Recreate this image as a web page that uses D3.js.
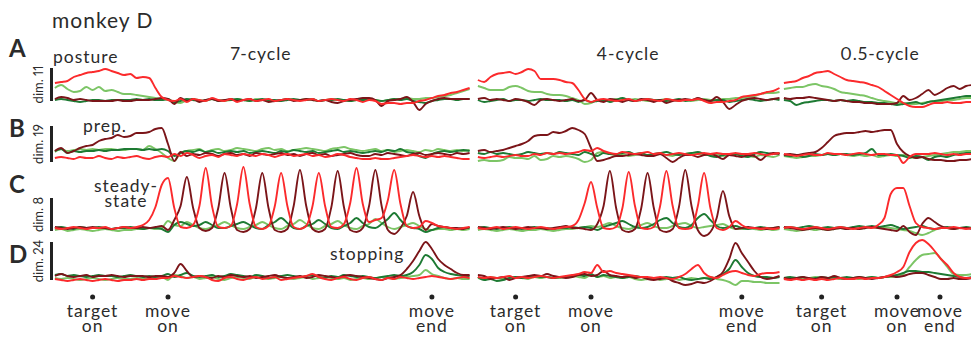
<!DOCTYPE html>
<html>
<head>
<meta charset="utf-8">
<script src="https://cdn.jsdelivr.net/npm/d3@7"></script>
<style>
body { margin: 0; background: #fff; }
text { font-family: Lato, "Open Sans", sans-serif; fill: #2b2b2b; font-variant-numeric: proportional-nums; }
.lab { font-size: 17.5px; letter-spacing: 1px; }
</style>
</head>
<body>
<div class="container"></div>
<script>
// time grid (s, relative to move onset) shared by every trace
var t0 = -1.5, step = 1 / 12;

var colNames = ['7-cycle', '4-cycle', '0.5-cycle'];
var colEnd = [4.0, 2.5, 1.0];
var rowLetters = ['A', 'B', 'C', 'D'];
var rowDims = ['dim. 11', 'dim. 19', 'dim. 8', 'dim. 24'];
var rowBars = [[-1, 32], [-8, 28], [-3, 30], [-3, 35]];
var eventTimes = [[-1, 0, 3.5], [-1, 0, 2.0], [-1, 0, 0.57]];
var eventLabels = [['target', 'on'], ['move', 'on'], ['move', 'end']];

// 7-cycle
var c7A_lg = [12,15,11,8,9,13,10,13,9,10, 8,6,6,5,4,3,2,1,0,-2, -3,0,1,0,-1,1,0,-1,0,1, 0,-1,1,0,0,-1,0,1,0,0, 1,0,-1,0,1,0,0,-1,0,1, 0,0,-1,0,1,1,2,1,1,2, 2,3,4,5,7,9,11];
var c7A_dg = [0,1,0,-1,-2,-1,0,0,-1,0, 0,0,0,1,0,1,0,0,1,-2, -1,1,0,-1,0,1,-1,0,0,1, 0,-1,0,1,0,0,-1,0,1,0, 0,1,-1,0,0,1,0,-1,0,0, 1,0,-1,0,1,0,1,-1,-2,-3, -1,0,1,1,0,1,1];
var c7A_dr = [1,3,2,0,1,0,-1,-1,-1,-1, 0,-1,-1,0,0,0,1,2,1,-4, 2,-1,1,-2,0,1,-1,0,1,-1, 0,1,-1,0,-2,-1,0,1,-1,0, 1,0,-1,0,-2,-3,-1,0,1,2, 2,0,-6,-1,0,1,3,-2,-10,-4, -1,1,2,1,1,1,1];
var c7A_rd = [17,18,19,23,25,27,28,29,31,29, 27,25,26,22,23,22,12,3,0,-1, 1,-2,1,0,-1,2,0,-1,1,-2, 0,1,-1,0,1,-1,0,1,0,-1, 0,1,-1,0,1,0,-1,1,0,-2, 0,-1,-4,-3,-3,-4,-3,-3,-1,0, 2,4,5,7,8,10,12];

var c7B_lg = [2,5,3,4,5,4,5,4,5,5, 4,4,5,5,4,8,5,1,-4,-7, 1,3,4,5,2,4,5,3,4,6, 5,4,3,5,6,4,5,3,4,5, 6,5,4,3,5,6,7,5,4,3, 4,5,3,4,2,3,4,3,2,4, 3,5,4,3,4,3,4];
var c7B_dg = [3,5,1,3,2,3,3,4,3,4, 4,5,5,5,4,5,4,5,3,-2, 1,3,2,4,2,3,1,2,3,2, 3,1,2,3,2,1,3,2,4,3, 2,3,1,2,3,4,2,3,2,1, 2,3,2,4,3,5,2,1,-2,-4, 0,2,3,2,3,4,3];
var c7B_dr = [3,6,1,3,6,8,9,13,15,16, 19,17,18,21,21,22,25,26,10,-7, 2,-2,0,-1,1,0,-2,0,1,-1, 0,-2,1,0,-1,0,1,-1,0,-2, 0,1,-1,0,-2,-1,0,1,-1,-2, -2,0,-1,1,0,-1,-2,0,1,-1, 0,1,0,-1,1,0,1];
var c7B_rd = [-4,-3,-4,-5,-3,-4,-4,-2,-4,-5, -3,-4,-3,-2,-4,-5,-3,-2,-3,0, -2,1,-1,-4,-2,-1,-3,0,-1,-2, 0,-1,-2,0,-1,-3,-1,0,-2,-1, 0,-2,-1,-3,-2,0,-1,-3,-4,-5, -5,-4,-5,-5,-4,-3,-2,-1,-2,-3, -2,-3,-2,-3,-4,-5,-5];

var c7C_lg = [-2,-1,-3,-2,-1,-2,-3,-2,-1,-2, -3,-2,-2,-1,-1,0,-1,0,7,3, 2,6,3,0,-1,1,3,6,3,0, -1,1,3,6,3,0,-1,2,4,8, 4,0,-1,2,4,7,3,0,-1,2, 4,9,5,1,-1,1,3,5,2,-1, -2,-1,-1,-2,-1,-2,-1];
var c7C_dg = [0,1,0,-1,1,0,0,1,0,-1, 0,0,1,0,-1,0,0,-1,-4,3, 6,4,2,3,6,3,0,0,2,4, 6,3,0,-1,3,6,10,5,0,-1, 2,4,8,4,0,-1,2,5,10,5, 1,0,4,9,15,8,2,0,-1,-4, -2,0,1,0,-1,0,0];
var c7C_dr = [1,0,-1,0,1,0,1,0,0,-1, 0,1,0,0,1,0,1,2,-2,8, 22,51,20,0,-3,0,20,55,20,-2, -4,-1,20,55,20,-2,-4,-1,22,58, 22,-1,-4,-1,21,57,21,-2,-4,0, 22,58,22,-2,-6,0,12,36,12,-2, 4,2,1,0,0,-1,1];
var c7C_rd = [0,-1,0,1,0,-1,0,0,1,-1, 0,1,0,1,3,8,21,43,50,20, 1,0,3,22,60,22,1,0,2,24, 61,24,1,-1,2,22,55,22,1,-1, 2,22,55,22,1,0,4,25,60,24, 6,8,10,28,58,24,2,0,1,7, 5,2,1,0,-1,0,1];

var c7D_lg = [-1,-2,-1,-2,-3,-2,-1,-2,-3,-2, -1,-2,-2,-1,-2,-1,-1,0,-3,2, 1,-1,0,-2,-1,0,-2,-3,-1,0, -1,-2,0,-1,-2,-1,0,-1,-2,-1, 0,-2,-1,0,-1,-2,-1,-3,-2,-1, -2,-1,0,-1,-2,-1,0,1,2,7, 3,1,-1,-2,-1,-2,-2];
var c7D_dg = [2,3,1,2,1,0,1,2,1,1, 0,1,2,1,0,1,0,1,3,0, 2,4,1,0,1,2,0,1,3,2, 1,0,2,1,-1,0,1,2,1,0, 1,2,0,-1,1,0,2,1,0,1, 0,-1,0,1,2,1,2,5,12,22, 18,9,5,3,2,1,1];
var c7D_dr = [1,3,1,0,1,2,0,1,1,2, 1,0,1,1,1,0,1,1,0,4, 13,6,0,1,0,-1,1,0,2,1, 0,1,-1,0,1,2,0,-1,0,1, -1,0,2,1,0,-1,1,2,1,0, -1,-2,-3,-1,0,2,8,16,26,35, 28,18,12,8,4,2,2];
var c7D_rd = [-2,-3,-4,-3,-2,-3,-4,-3,-2,-3, -4,-3,-3,-2,-3,-2,-2,-1,-1,1, 0,-1,0,1,0,-3,-4,-1,0,-2, -3,-1,0,-2,-1,0,-3,-2,-1,0, 1,3,0,-2,-3,-1,0,-2,-3,-1, 0,-2,-3,-1,-2,0,-1,-2,-1,0, 1,0,-1,-2,-1,0,-1];

// 4-cycle
var c4A_lg = [14,12,10,10,10,13,14,12,9,8, 8,6,5,5,4,2,0,-4,-3,0, -1,0,1,0,0,1,0,-1,0,0, 1,0,-1,0,-1,0,1,0,0,1, 1,2,2,3,4,6,7,7,8];
var c4A_dg = [0,-2,-1,0,1,-1,0,0,-1,0, 1,0,0,0,-1,0,-2,0,-2,-1, 0,-2,0,2,0,-1,0,1,0,0, -1,0,1,-1,0,1,0,-1,0,0, -2,-1,0,1,0,-1,0,1,0];
var c4A_dr = [1,2,0,1,0,-1,1,0,-2,-5, 0,1,0,-1,0,1,-1,0,7,0, -2,1,0,-2,0,-1,1,0,-2,0, -3,-1,0,1,0,2,0,-1,3,-2, -9,-5,-1,1,2,1,0,1,2];
var c4A_rd = [20,18,23,26,27,28,26,28,31,29, 21,21,21,20,18,17,10,1,-2,0, 1,0,-1,0,1,-1,0,1,0,-1, 1,0,-1,0,0,1,-1,-3,-2,-2, -1,0,3,4,5,6,8,9,12];

var c4B_lg = [-7,-6,-7,-7,-6,-3,-4,-4,-5,-2, -6,-5,-2,-3,-2,-3,-5,-8,-6,1, 2,0,-1,0,-2,-1,0,-2,-1,0, -1,-2,0,0,1,0,-1,-1,0,-2, -1,0,-1,-2,-3,-1,-2,-3,-1];
var c4B_dg = [1,0,2,0,1,0,-1,0,2,1, 0,1,0,2,1,0,-1,2,0,-2, 1,0,0,1,2,0,1,-1,0,1, 2,0,-1,0,1,2,0,-2,-3,-1, 0,0,-2,-3,0,2,1,0,1];
var c4B_dr = [3,4,2,3,4,6,8,10,13,18, 19,19,22,21,23,26,24,20,6,-7, -6,-4,-2,-2,-1,0,-1,-2,-2,0, -4,-8,-4,-1,-1,-3,-1,0,-2,-5, -1,-2,-3,-1,-2,-6,-1,1,0];
var c4B_rd = [-3,-4,-3,-2,-3,-2,-1,-2,-2,0, -1,1,0,1,0,1,2,4,3,6, 3,1,0,2,1,0,1,2,0,1, -1,0,1,0,-1,0,1,0,1,0, 0,1,0,0,1,0,-1,0,1];

var c4C_lg = [-2,-1,-2,-3,-2,-1,-2,-3,-2,-2, -1,-2,-3,-2,-1,-1,0,1,2,1, 3,5,2,0,-1,1,3,5,2,0, 0,2,4,5,2,0,1,2,3,4, 1,-1,-1,0,-1,-2,-1,-2,-1];
var c4C_dg = [0,1,0,-1,0,1,0,-1,0,1, 0,0,-1,0,0,1,0,1,0,-2, 1,3,5,7,4,1,0,1,4,8, 10,5,1,0,3,10,14,8,2,0, 1,2,0,-1,0,1,0,0,1];
var c4C_dr = [1,0,-1,0,1,0,-1,0,1,0, 0,-1,0,1,2,0,0,-1,-2,4, 22,57,20,-2,-4,-1,20,55,20,-2, -4,-1,21,58,22,-2,-8,-4,10,37, 12,-1,0,1,0,0,-1,0,1];
var c4C_rd = [0,-1,0,1,-1,0,1,0,-1,0, 1,0,-1,0,1,2,8,25,46,20, 0,-1,1,20,56,22,0,-1,1,22, 57,22,0,-1,0,22,55,20,0,-2, 1,7,3,0,0,-1,0,-1,0];

var c4D_lg = [-1,-2,0,-1,-2,-1,0,-1,-2,0, -1,0,-1,-1,0,1,0,-1,2,0, 1,-1,0,-1,0,-2,-3,-2,-1,-3, -2,-1,-3,-2,-1,-2,-1,0,-2,-3, -5,-8,-4,-4,-5,-5,-6,-6,-6];
var c4D_dg = [0,-3,-2,-4,-3,-1,0,-1,0,1, 0,0,-1,0,0,1,2,1,3,0, 2,1,0,-1,0,1,0,-1,-2,-1, 0,-1,0,-2,-3,-2,-1,-2,0,3, 8,17,10,4,1,0,0,-1,0];
var c4D_dr = [2,1,-2,-1,0,-3,-1,0,1,2, 1,3,1,0,-1,0,2,3,1,2, 6,2,1,0,1,-1,0,-2,-3,-2, -1,-4,-6,-8,-7,-5,-6,-4,0,5, 18,34,24,15,6,0,-2,-1,1];
var c4D_rd = [0,-1,0,-1,0,1,-1,0,-1,0, 1,0,-1,0,1,2,3,5,4,12, 5,6,4,3,2,1,0,0,-1,0, -1,-2,0,3,8,12,4,0,-1,2, 5,6,4,2,1,3,4,4,5];

// 0.5-cycle
var c05A_lg = [11,12,13,13,15,16,14,13,11,8, 7,6,5,4,2,0,-1,-2,-3,-3, -4,-4,-3,-2,-1,-1,0,0,1,2, 2];
var c05A_dg = [0,-1,-5,-3,-2,-1,0,0,-1,0, -1,0,-1,-2,-2,-3,-3,-4,-5,-4, -3,-2,-4,-2,-1,0,1,2,3,4, 4];
var c05A_dr = [2,1,2,2,3,2,1,0,-1,0, -1,-2,-2,-3,-3,-4,-4,-4,-3,4, 0,2,6,10,5,8,12,14,11,14, 15];
var c05A_rd = [17,18,19,22,24,27,28,29,26,23, 20,19,18,17,15,13,9,5,1,-3, -6,-7,-7,-5,-3,-3,-2,-3,-3,-2, -2];

var c05B_lg = [-2,-3,-4,-3,-2,-2,-1,0,-1,0, -1,-2,-1,-2,-1,-3,-2,-1,-2,-1, -3,-4,-3,-2,-1,0,1,2,2,3, 3];
var c05B_dg = [-1,-2,-1,-3,-2,0,-1,0,-1,0, 0,-1,0,1,5,-1,-1,0,-1,-2, -4,-2,-3,-6,-3,-2,-3,-1,0,1, 1];
var c05B_dr = [-1,0,-1,0,1,2,6,12,18,20, 21,21,22,23,22,23,24,24,10,2, -2,-4,-3,-5,-6,-6,-7,-7,-6,-6, -5];
var c05B_rd = [0,-1,-2,-1,0,-1,-1,1,0,0, -1,0,1,0,-1,0,0,-1,-1,-9, -3,0,0,0,1,0,-1,0,-1,0, 0];

var c05C_lg = [-1,-2,-3,-2,-1,-2,-1,-2,-1,0, -1,0,-1,0,1,0,1,0,-1,-2, -3,-5,-7,-5,-2,0,0,-1,0,0, 0];
var c05C_dg = [0,1,0,1,2,1,0,1,0,1, 0,1,2,1,2,1,2,3,1,-1, 0,1,2,0,-1,0,1,0,0,1, 0];
var c05C_dr = [1,0,-1,-2,-1,0,-1,-2,-1,0, -1,0,-1,0,1,0,-1,-2,-3,2, -4,-7,4,10,6,2,0,-1,0,0, -1];
var c05C_rd = [0,1,0,-1,0,1,0,-1,0,1, 0,-1,0,1,0,3,10,34,40,40, 22,5,1,0,-1,0,0,1,0,-1, 0];

var c05D_lg = [-1,-2,-1,-2,-1,0,-1,-2,-1,-2, -1,-1,-2,-1,0,-1,0,0,1,3, 10,17,22,23,24,18,10,3,2,2, 3];
var c05D_dg = [-1,0,-1,0,-2,-1,0,-1,0,-1, 0,-1,0,-1,0,-1,0,1,2,4, 6,6,5,5,4,3,2,1,0,-1, 0];
var c05D_dr = [-1,-2,-1,0,-1,-2,0,-1,1,-1, -2,-1,0,-1,-2,-1,0,1,0,1, 3,4,4,2,0,-2,-2,-1,-2,-2, -1];
var c05D_rd = [-2,-3,-2,-3,-2,-3,-2,-3,-2,-1, -2,-2,-1,-2,-1,-1,0,2,5,10, 25,34,37,33,26,18,12,4,0,-1, -1];

var traces = [
	[[c7A_lg, c7A_dg, c7A_dr, c7A_rd], [c7B_lg, c7B_dg, c7B_dr, c7B_rd], [c7C_lg, c7C_dg, c7C_dr, c7C_rd], [c7D_lg, c7D_dg, c7D_dr, c7D_rd]],
	[[c4A_lg, c4A_dg, c4A_dr, c4A_rd], [c4B_lg, c4B_dg, c4B_dr, c4B_rd], [c4C_lg, c4C_dg, c4C_dr, c4C_rd], [c4D_lg, c4D_dg, c4D_dr, c4D_rd]],
	[[c05A_lg, c05A_dg, c05A_dr, c05A_rd], [c05B_lg, c05B_dg, c05B_dr, c05B_rd], [c05C_lg, c05C_dg, c05C_dr, c05C_rd], [c05D_lg, c05D_dg, c05D_dr, c05D_rd]]
];
var traceColors = ['#7cc566', '#1d7a33', '#7b1519', '#fb2a2c'];

// layout
var pxPerSec = 75.4;
var moveOnX = [168, 591, 897];
var rowBase = [100, 154, 228, 277];
var colTitleX = [261, 628, 880];

var svg = d3.select('.container')
			.append('svg')
				.attr('width', 971)
				.attr('height', 337);

var xScales = colEnd.map(function(end, c) {
	return d3.scaleLinear()
			.domain([t0, end])
			.range([moveOnX[c] + t0 * pxPerSec, moveOnX[c] + end * pxPerSec]);
});

var yScales = rowBase.map(function(base) {
	return d3.scaleLinear()
			.domain([0, 40])
			.range([base, base - 40]);
});

svg.append('text')
	.attr('x', 52)
	.attr('y', 28)
	.style('font-size', '21px')
	.style('letter-spacing', '1px')
	.text('monkey D');

svg.selectAll('.colTitle')
	.data(colNames)
	.enter()
	.append('text')
		.attr('class', 'colTitle lab')
		.attr('x', function(d, i) { return colTitleX[i]; })
		.attr('y', 60)
		.attr('text-anchor', 'middle')
		.text(function(d) { return d; });

var letterY = [57, 137, 193, 263];
svg.selectAll('.rowLetter')
	.data(rowLetters)
	.enter()
	.append('text')
		.attr('class', 'rowLetter')
		.attr('x', 9)
		.attr('y', function(d, i) { return letterY[i]; })
		.style('font-size', '24px')
		.style('font-weight', 'bold')
		.text(function(d) { return d; });

// scale bars + dim labels
rowBars.forEach(function(b, r) {
	var y = yScales[r];
	svg.append('line')
		.attr('x1', 51.5)
		.attr('x2', 51.5)
		.attr('y1', y(b[0]))
		.attr('y2', y(b[1]))
		.style('stroke', '#222')
		.style('stroke-width', 3);
	svg.append('text')
		.attr('transform', 'translate(43,' + ((y(b[0]) + y(b[1])) / 2) + ') rotate(-90)')
		.attr('text-anchor', 'middle')
		.style('font-size', '13px')
		.text(rowDims[r]);
});

var line = d3.line()
			.x(function(d) { return d.x; })
			.y(function(d) { return d.y; })
			.curve(d3.curveMonotoneX);

traces.forEach(function(col, c) {
	col.forEach(function(row, r) {
		row.forEach(function(vals, k) {
			var pts = vals.map(function(v, i) {
				return {x: xScales[c](t0 + i * step), y: yScales[r](v)};
			});
			svg.append('path')
				.attr('d', line(pts))
				.style('fill', 'none')
				.style('stroke', traceColors[k])
				.style('stroke-width', 1.9)
				.style('stroke-linejoin', 'round');
		});
	});
});

// two stacked lines, tight leading as in the figure
function twoLines(x, y, a, b) {
	var t = svg.append('text')
				.attr('class', 'lab')
				.attr('x', x)
				.attr('y', y)
				.attr('text-anchor', 'middle');
	t.append('tspan').attr('x', x).text(a);
	t.append('tspan').attr('x', x).attr('dy', 14.5).text(b);
}

// epoch labels inside panels
svg.append('text').attr('class', 'lab').attr('x', 53).attr('y', 63).text('posture');
svg.append('text').attr('class', 'lab').attr('x', 83).attr('y', 132).text('prep.');
twoLines(126, 192, 'steady-', 'state');
svg.append('text').attr('class', 'lab').attr('x', 330).attr('y', 260).text('stopping');

// event markers
eventTimes.forEach(function(ts, c) {
	ts.forEach(function(t, k) {
		var x = xScales[c](t);
		svg.append('circle')
			.attr('cx', x)
			.attr('cy', 297)
			.attr('r', 2.5)
			.style('fill', '#222');
		twoLines(x, 317, eventLabels[k][0], eventLabels[k][1]);
	});
});
</script>
</body>
</html>
